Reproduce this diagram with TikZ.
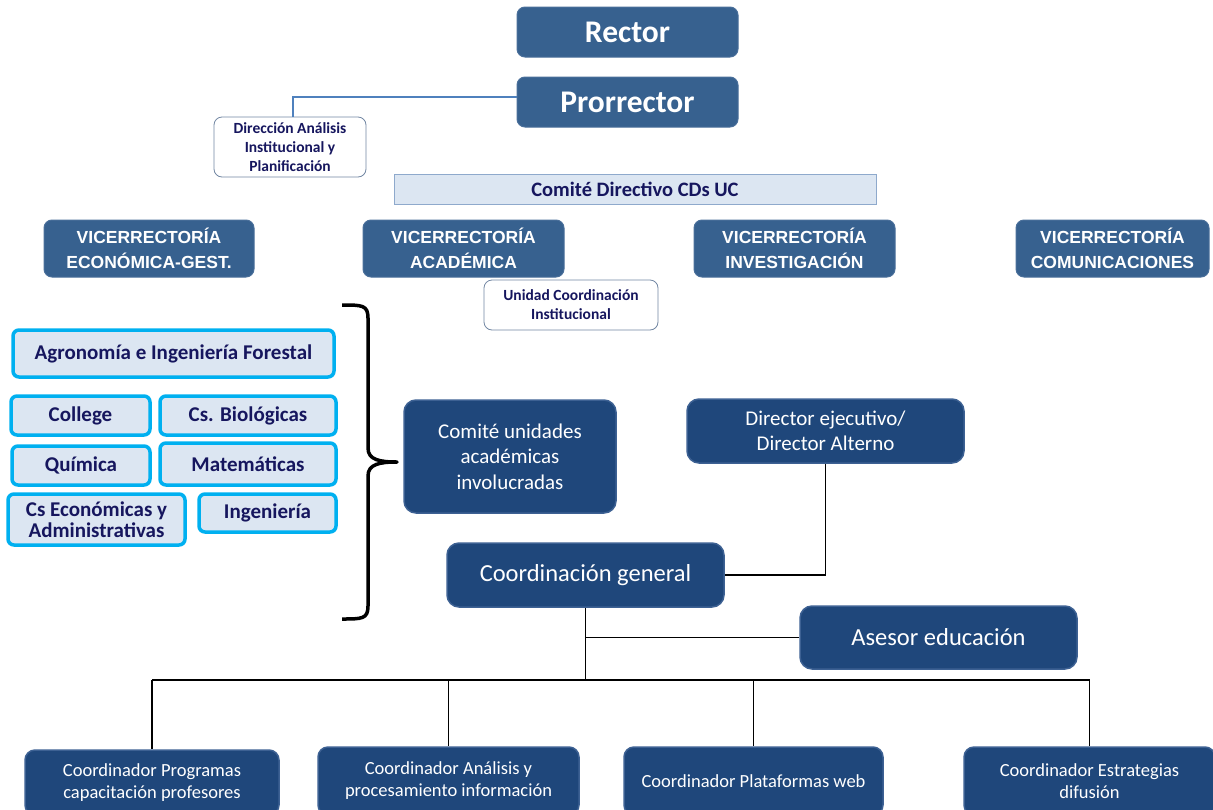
\documentclass[tikz,border=0pt]{standalone}
\usepackage{fontspec}
\setmainfont{Carlito}
\newfontfamily\arialf{Liberation Sans}
\definecolor{topblue}{HTML}{37618F}
\definecolor{topedge}{HTML}{4A6F9A}
\definecolor{darkblue}{HTML}{1F477B}
\definecolor{darkedge}{HTML}{3D6193}
\definecolor{navy}{HTML}{16165E}
\definecolor{paleblue}{HTML}{DCE6F2}
\definecolor{paleedge}{HTML}{8EA9CC}
\definecolor{cyanedge}{HTML}{00B0F0}
\definecolor{steel}{HTML}{4F81BD}
\newcommand{\fs}[2]{\fontsize{#1}{#2}\selectfont}
\newcommand{\bx}[7]{\node[#2, minimum width={#5pt-#3pt}, minimum height={#6pt-#4pt}] (#1) at ({(#3+#5)/2},{(#4+#6)/2}) {#7};}
\tikzset{
  every node/.style={inner sep=0pt, align=center},
  topbox/.style={fill=topblue, draw=topedge, line width=1pt, rounded corners=8pt, text=white, font=\bfseries\fs{31.5}{34}},
  vicebox/.style={fill=topblue, draw=topedge, line width=1pt, rounded corners=8pt, text=white, font=\arialf\bfseries\fs{17.5}{25}},
  whitebox/.style={fill=white, draw=paleedge!80!black, line width=0.8pt, rounded corners=8pt, text=navy, font=\bfseries\fs{15.5}{19}},
  comdir/.style={fill=paleblue, draw=paleedge, line width=1pt, text=navy, font=\bfseries\fs{20.5}{22}},
  facbox/.style={fill=paleblue, draw=cyanedge, line width=3.5pt, rounded corners=6pt, text=navy, font=\bfseries\fs{21}{21}},
  darkbox/.style={fill=darkblue, draw=darkedge, line width=1.5pt, rounded corners=12pt, text=white, font=\fs{21}{25.5}},
  botbox/.style={fill=darkblue, draw=darkedge, line width=1.5pt, rounded corners=10pt, text=white, font=\fs{18.5}{22}},
  conn/.style={draw=black, line width=1.1pt},
  blueconn/.style={draw=steel, line width=1.3pt}
}
\begin{document}
\begin{tikzpicture}[x=1pt,y=-1pt]
\useasboundingbox (0,0) rectangle (1213,809);
\clip (0,0) rectangle (1213,809);
% top
\bx{rector}{topbox}{517}{7}{738}{57}{Rector}
\bx{pro}{topbox}{517}{77}{738}{127}{Prorrector}
\bx{dir}{whitebox}{214}{117}{366}{177}{Dirección Análisis\\Institucional y\\Planificación}
\bx{cdir}{comdir}{394}{174}{876}{204}{Comité Directivo CDs UC}
% vicerrectorias
\bx{v1}{vicebox}{44}{220}{254}{277}{VICERRECTORÍA\\ECONÓMICA-GEST.}
\bx{v2}{vicebox}{363}{220}{564}{277}{VICERRECTORÍA\\ACADÉMICA}
\bx{v3}{vicebox}{694}{220}{895}{277}{VICERRECTORÍA\\INVESTIGACIÓN}
\bx{v4}{vicebox}{1016}{220}{1209}{277}{VICERRECTORÍA\\COMUNICACIONES}
\bx{uci}{whitebox}{484}{280}{658}{330}{Unidad Coordinación\\Institucional}
% faculties
\bx{agro}{facbox}{13}{330}{334}{377}{Agronomía e Ingeniería Forestal}
\bx{coll}{facbox}{11}{396}{150}{435}{College}
\bx{bio}{facbox}{160}{396}{336}{435}{Cs. Biológicas}
\bx{quim}{facbox}{12}{446}{150}{485}{Química}
\bx{mat}{facbox}{160}{443}{336}{485}{Matemáticas}
\bx{eco}{facbox}{8}{494}{185}{545}{Cs Económicas y\\Administrativas}
\bx{ing}{facbox}{199}{494}{336}{532}{Ingeniería}
% brace
\draw[line width=3.5pt, line join=round] (342,305) .. controls (362,305) and (368,305) .. (368,318) -- (368,448) .. controls (368,460) and (380,462) .. (397,462) .. controls (380,462) and (368,464) .. (368,476) -- (368,606) .. controls (368,619) and (362,619) .. (342,619);
% middle
\bx{cua}{darkbox}{404}{400}{616}{513}{Comité unidades\\académicas\\involucradas}
\bx{de}{darkbox}{687}{399}{964}{463}{Director ejecutivo/\\Director Alterno}
\bx{cg}{darkbox, font=\fs{24.5}{25}}{447}{543}{724}{607}{Coordinación general}
\bx{ase}{darkbox, font=\fs{24.5}{25}}{800}{606}{1077}{669}{Asesor educación}
% bottom
\bx{b1}{botbox}{25}{750}{279}{815}{Coordinador Programas\\capacitación profesores}
\bx{b2}{botbox}{318}{747}{579}{815}{Coordinador Análisis y\\procesamiento información}
\bx{b3}{botbox}{624}{747}{883}{815}{Coordinador Plataformas web}
\bx{b4}{botbox}{964}{747}{1215}{815}{Coordinador Estrategias\\difusión}
% connectors
\coordinate (bus) at (585.5,680);
\draw[blueconn] ([yshift=5pt]pro.west) -| ([xshift=3pt]dir.north);
\draw[conn] (de.south) |- (cg.east);
\draw[conn] (cg.south) -- (bus);
\draw[conn] (cg.south |- ase.west) -- (ase.west);
\draw[conn] (b1.north |- bus) -- (b4.north |- bus);
\draw[conn] (b1.north |- bus) -- (b1.north);
\draw[conn] (b2.north |- bus) -- (b2.north);
\draw[conn] (b3.north |- bus) -- (b3.north);
\draw[conn] (b4.north |- bus) -- (b4.north);
\end{tikzpicture}
\end{document}
